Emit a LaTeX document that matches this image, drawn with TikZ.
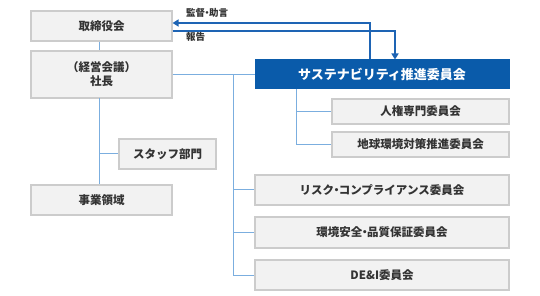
\documentclass[tikz,border=0pt]{standalone}
\usepackage{fontspec}
\setmainfont{Noto Sans CJK JP}
\usetikzlibrary{arrows.meta,calc}
\definecolor{boxfill}{HTML}{F2F2F2}
\definecolor{boxline}{HTML}{CCCCCC}
\definecolor{lineblue}{HTML}{7BAEDF}
\definecolor{arrowblue}{HTML}{1E64B4}
\definecolor{susblue}{HTML}{0A5BAA}
\definecolor{txt}{HTML}{333333}
\newcommand{\nakaguro}{\kern-0.3em・\kern-0.3em}
\begin{document}
\begin{tikzpicture}[x=1pt,y=-1pt,
  graybox/.style={draw=boxline,fill=boxfill,line width=1.1pt,inner sep=0pt,
    text=txt,font=\bfseries\fontsize{11.5}{14}\selectfont,align=center},
  bluebox/.style={draw=susblue,fill=susblue,line width=1pt,inner sep=0pt,
    text=white,font=\bfseries\fontsize{13}{15}\selectfont},
  conn/.style={draw=lineblue,line width=1pt},
  flow/.style={draw=arrowblue,line width=1.6pt,-{Triangle[width=7pt,length=6pt]}},
  lbl/.style={text=txt,font=\bfseries\fontsize{9.5}{10}\selectfont,inner sep=0pt}]
\useasboundingbox (0,0) rectangle (540,296);
\fill[white] (0,0) rectangle (540,296);

% nodes
\node[graybox,minimum width=141pt,minimum height=30pt] (board) at (101.5,26) {取締役会};
\node[graybox,minimum width=141pt,minimum height=47pt] (pres) at (101.5,74.5) {（経営会議）\\社長};
\node[bluebox,minimum width=254pt,minimum height=29pt] (sus) at (382,74.5) {サステナビリティ推進委員会};
\node[graybox,minimum width=177pt,minimum height=25pt] (jinken) at (420.5,111.5) {人権専門委員会};
\node[graybox,minimum width=177pt,minimum height=25pt] (chikyu) at (420.5,144.5) {地球環境対策推進委員会};
\node[graybox,minimum width=97pt,minimum height=30pt] (staff) at (167.5,154) {スタッフ部門};
\node[graybox,minimum width=141pt,minimum height=30pt] (jigyo) at (101.5,200) {事業領域};
\node[graybox,minimum width=254pt,minimum height=30pt] (risk) at (382,190) {リスク\nakaguro コンプライアンス委員会};
\node[graybox,minimum width=254pt,minimum height=31pt] (kankyo) at (382,232.5) {環境安全\nakaguro 品質保証委員会};
\node[graybox,minimum width=254pt,minimum height=30pt] (dei) at (382,275) {DE\&I委員会};

% coordinates
\coordinate (spine) at (233,74.5);
\coordinate (spineEnd) at (233,275);
\coordinate (susTap) at (296,89);
\coordinate (presTap) at (99,98);

% connectors
\draw[conn] ([xshift=-2.5pt]board.south) -- ([xshift=-2.5pt]pres.north);
\draw[conn] (pres.east) -- (sus.west);
\draw[conn] (spine) -- (spineEnd);
\draw[conn] (spine |- risk.west) -- (risk.west);
\draw[conn] (spine |- kankyo.west) -- (kankyo.west);
\draw[conn] (spineEnd) -- (dei.west);
\draw[conn] (susTap) |- (chikyu.west);
\draw[conn] (susTap |- jinken.west) -- (jinken.west);
\draw[conn] (presTap) -- (presTap |- jigyo.north);
\draw[conn] (presTap |- staff.west) -- (staff.west);

% flows
\draw[flow] ([yshift=-5pt]board.east) -| ([xshift=13pt]sus.north);
\draw[flow] ([xshift=-12pt]sus.north) |- ([yshift=3pt]board.east);

% labels
\node[lbl,anchor=west] (l1) at (186,13) {監督\nakaguro 助言};
\node[lbl,anchor=west] (l2) at (186,37) {報告};
\end{tikzpicture}
\end{document}
